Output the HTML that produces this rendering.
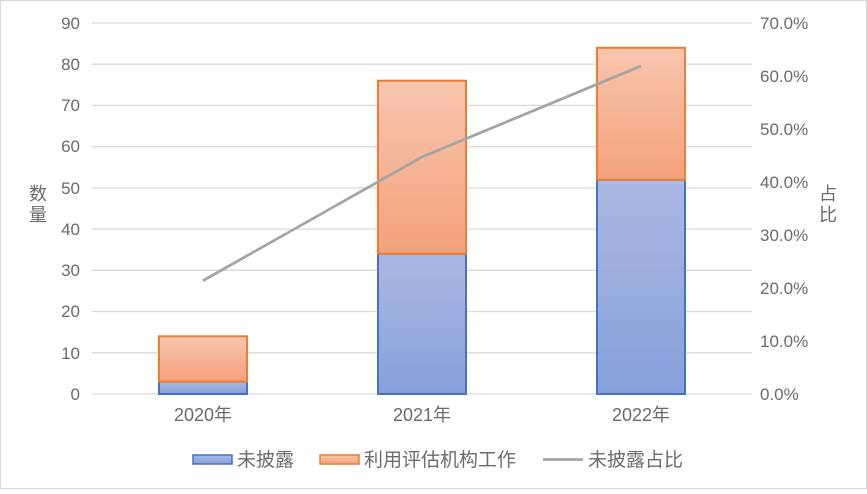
<!DOCTYPE html>
<html><head><meta charset="utf-8"><style>
html,body{margin:0;padding:0;background:#fff}
svg text{font-family:"Liberation Sans","Noto Sans CJK SC",sans-serif;fill:#6b6b6b;font-size:17px}
</style></head><body>
<svg width="867" height="489" viewBox="0 0 867 489" xmlns="http://www.w3.org/2000/svg">
<defs>
<linearGradient id="b" x1="0" y1="0" x2="0" y2="1"><stop offset="0" stop-color="#aab9e3"/><stop offset="1" stop-color="#87a0da"/></linearGradient>
<linearGradient id="o" x1="0" y1="0" x2="0" y2="1"><stop offset="0" stop-color="#f8c6af"/><stop offset="1" stop-color="#f4a17c"/></linearGradient>
</defs>
<rect x="0.5" y="0.5" width="866" height="488" fill="#fff" stroke="#d9d9d9"/>
<g stroke="#d9d9d9" stroke-width="1.3">
<line x1="92" x2="752" y1="23" y2="23"/><line x1="92" x2="752" y1="64.2" y2="64.2"/><line x1="92" x2="752" y1="105.4" y2="105.4"/><line x1="92" x2="752" y1="146.7" y2="146.7"/><line x1="92" x2="752" y1="187.9" y2="187.9"/><line x1="92" x2="752" y1="229.1" y2="229.1"/><line x1="92" x2="752" y1="270.3" y2="270.3"/><line x1="92" x2="752" y1="311.5" y2="311.5"/><line x1="92" x2="752" y1="352.8" y2="352.8"/><line x1="92" x2="752" y1="394" y2="394"/>
</g>
<g text-anchor="end">
<text x="80" y="29">90</text><text x="80" y="70">80</text><text x="80" y="111">70</text><text x="80" y="152">60</text><text x="80" y="194">50</text><text x="80" y="235">40</text><text x="80" y="276">30</text><text x="80" y="317">20</text><text x="80" y="359">10</text><text x="80" y="400">0</text>
</g>
<g>
<text x="760" y="29">70.0%</text><text x="760" y="82">60.0%</text><text x="760" y="135">50.0%</text><text x="760" y="188">40.0%</text><text x="760" y="241">30.0%</text><text x="760" y="294">20.0%</text><text x="760" y="347">10.0%</text><text x="760" y="400">0.0%</text>
</g>
<g font-size="18">
<text x="38" y="200" text-anchor="middle" style="font-size:18px">数</text><text x="38" y="221" text-anchor="middle" style="font-size:18px">量</text>
<text x="828" y="200" text-anchor="middle" style="font-size:18px">占</text><text x="828" y="221" text-anchor="middle" style="font-size:18px">比</text>
</g>
<g stroke-width="2">
<rect x="159" y="381.6" width="88" height="12.4" fill="url(#b)" stroke="#4472c4"/>
<rect x="159" y="336.3" width="88" height="45.3" fill="url(#o)" stroke="#ed7d31"/>
<rect x="378" y="253.8" width="88" height="140.2" fill="url(#b)" stroke="#4472c4"/>
<rect x="378" y="80.7" width="88" height="173.1" fill="url(#o)" stroke="#ed7d31"/>
<rect x="597" y="179.7" width="88" height="214.3" fill="url(#b)" stroke="#4472c4"/>
<rect x="597" y="47.8" width="88" height="131.9" fill="url(#o)" stroke="#ed7d31"/>
</g>
<polyline points="203,280.6 422,157 641,66" fill="none" stroke="#a5a5a5" stroke-width="2.8" stroke-linejoin="round"/>
<g text-anchor="middle">
<text x="203" y="421" style="font-size:18px">2020年</text><text x="422" y="421" style="font-size:18px">2021年</text><text x="641" y="421" style="font-size:18px">2022年</text>
</g>
<rect x="193" y="455" width="39" height="9" fill="url(#b)" stroke="#4472c4" stroke-width="1.5"/>
<text x="237" y="466" style="font-size:19px">未披露</text>
<rect x="320" y="455" width="39" height="9" fill="url(#o)" stroke="#ed7d31" stroke-width="1.5"/>
<text x="364" y="466" style="font-size:19px">利用评估机构工作</text>
<line x1="543" x2="583" y1="459.5" y2="459.5" stroke="#a5a5a5" stroke-width="2.8"/>
<text x="588" y="466" style="font-size:19px">未披露占比</text>
</svg>
</body></html>
